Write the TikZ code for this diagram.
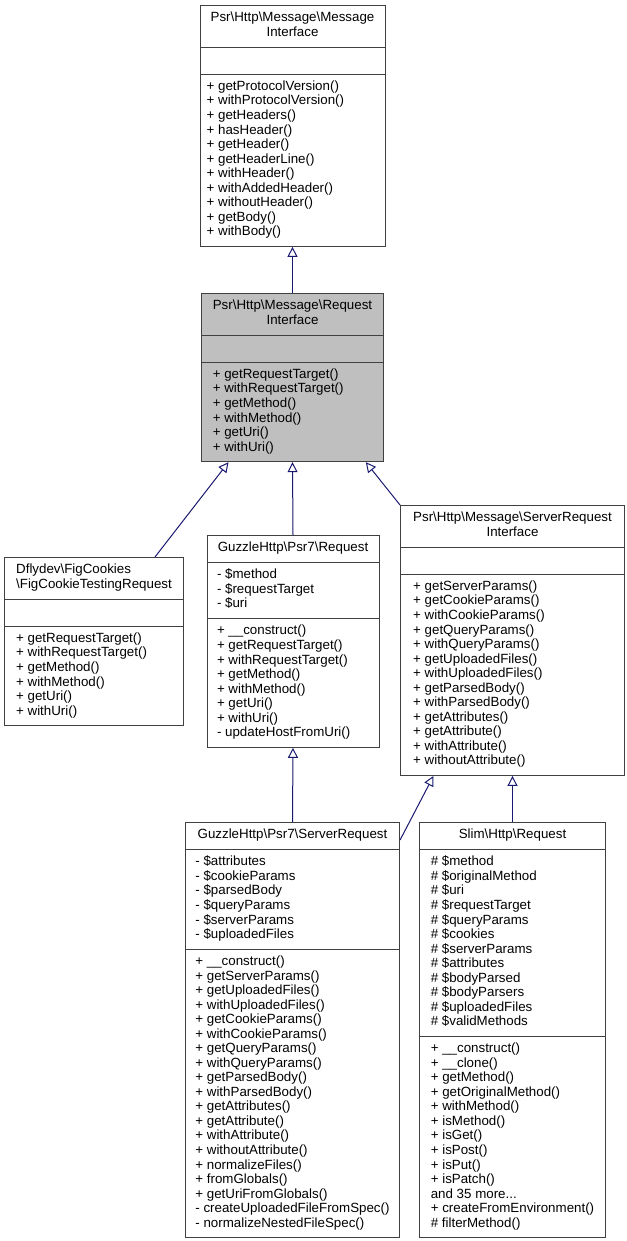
\documentclass[tikz,border=0pt]{standalone}
\usepackage{fontspec}
\setmainfont{Liberation Sans}
\usetikzlibrary{shapes.multipart,arrows.meta,positioning}
\definecolor{edgeblue}{HTML}{191970}
\definecolor{boxline}{HTML}{404040}
\newcommand{\ctr}[1]{\begin{tabular}{@{}c@{}}#1\end{tabular}}
\newcommand{\lft}[1]{\begin{tabular}{@{}l@{}}#1\end{tabular}}
\newcommand{\bksl}{\textbackslash}

\begin{document}
\begin{tikzpicture}[
        x=0.75pt, y=-0.75pt,
        ->,
        >={Triangle[open,length=7.5pt,width=7.5pt]},
        cls/.style={draw=boxline, line width=0.75pt, fill=white, anchor=north,
            rectangle split, rectangle split parts=3,
            rectangle split part align={center,left,left},
            rectangle split empty part height=10.9pt,
            inner xsep=8.7pt, inner ysep=4.3pt,
            font=\fontsize{10}{10.9}\selectfont},
        gen/.style={draw=edgeblue, line width=0.75pt}
        ]
    \useasboundingbox (0,0) rectangle (627,1241);

    % Classes
    \node[cls, inner xsep=5pt, minimum width=138.75pt] (msgif) at (292.5,5)
        {\ctr{Psr\bksl Http\bksl Message\bksl Message\\Interface}
         \nodepart{second}
         \nodepart{third}\lft{+ getProtocolVersion()\\+ withProtocolVersion()\\+ getHeaders()\\+ hasHeader()\\+ getHeader()\\+ getHeaderLine()\\+ withHeader()\\+ withAddedHeader()\\+ withoutHeader()\\+ getBody()\\+ withBody()}};
    \node[cls, fill=gray!50, minimum width=135.75pt] (reqif) at (292.5,293)
        {\ctr{Psr\bksl Http\bksl Message\bksl Request\\Interface}
         \nodepart{second}
         \nodepart{third}\lft{+ getRequestTarget()\\+ withRequestTarget()\\+ getMethod()\\+ withMethod()\\+ getUri()\\+ withUri()}};
    \node[cls, rectangle split part align=left, minimum width=133.5pt] (figreq) at (94,557)
        {\lft{Dflydev\bksl FigCookies\\\bksl FigCookieTestingRequest}
         \nodepart{second}
         \nodepart{third}\lft{+ getRequestTarget()\\+ withRequestTarget()\\+ getMethod()\\+ withMethod()\\+ getUri()\\+ withUri()}};
    \node[cls, inner xsep=7.5pt, minimum width=129pt] (guzreq) at (293,535)
        {\ctr{GuzzleHttp\bksl Psr7\bksl Request}
         \nodepart{second}\lft{- \$method\\- \$requestTarget\\- \$uri}
         \nodepart{third}\lft{+ \_\_construct()\\+ getRequestTarget()\\+ withRequestTarget()\\+ getMethod()\\+ withMethod()\\+ getUri()\\+ withUri()\\- updateHostFromUri()}};
    \node[cls, inner xsep=9.5pt, minimum width=165.75pt] (srvif) at (512.5,505)
        {\ctr{Psr\bksl Http\bksl Message\bksl ServerRequest\\Interface}
         \nodepart{second}
         \nodepart{third}\lft{+ getServerParams()\\+ getCookieParams()\\+ withCookieParams()\\+ getQueryParams()\\+ withQueryParams()\\+ getUploadedFiles()\\+ withUploadedFiles()\\+ getParsedBody()\\+ withParsedBody()\\+ getAttributes()\\+ getAttribute()\\+ withAttribute()\\+ withoutAttribute()}};
    \node[cls, inner xsep=7.5pt, minimum width=158.25pt] (guzsrv) at (292.5,822)
        {\ctr{GuzzleHttp\bksl Psr7\bksl ServerRequest}
         \nodepart{second}\lft{- \$attributes\\- \$cookieParams\\- \$parsedBody\\- \$queryParams\\- \$serverParams\\- \$uploadedFiles}
         \nodepart{third}\lft{+ \_\_construct()\\+ getServerParams()\\+ getUploadedFiles()\\+ withUploadedFiles()\\+ getCookieParams()\\+ withCookieParams()\\+ getQueryParams()\\+ withQueryParams()\\+ getParsedBody()\\+ withParsedBody()\\+ getAttributes()\\+ getAttribute()\\+ withAttribute()\\+ withoutAttribute()\\+ normalizeFiles()\\+ fromGlobals()\\+ getUriFromGlobals()\\- createUploadedFileFromSpec()\\- normalizeNestedFileSpec()}};
    \node[cls, minimum width=135.75pt] (slimreq) at (512.5,822)
        {\ctr{Slim\bksl Http\bksl Request}
         \nodepart{second}\lft{\# \$method\\\# \$originalMethod\\\# \$uri\\\# \$requestTarget\\\# \$queryParams\\\# \$cookies\\\# \$serverParams\\\# \$attributes\\\# \$bodyParsed\\\# \$bodyParsers\\\# \$uploadedFiles\\\# \$validMethods}
         \nodepart{third}\lft{+ \_\_construct()\\+ \_\_clone()\\+ getMethod()\\+ getOriginalMethod()\\+ withMethod()\\+ isMethod()\\+ isGet()\\+ isPost()\\+ isPut()\\+ isPatch()\\and 35 more...\\+ createFromEnvironment()\\\# filterMethod()}};

    % Inheritance
    \draw[gen] (reqif.north) -- (msgif.south);
    \draw[gen] ([xshift=45.75pt]figreq.north) -- ([xshift=-48pt]reqif.south);
    \draw[gen] (guzreq.north) -- (reqif.south);
    \draw[gen] (srvif.north west) -- ([xshift=55pt]reqif.south);
    \draw[gen] (guzsrv.north) -- (guzreq.south);
    \draw[gen] ([yshift=-13.5pt]guzsrv.north east) -- ([xshift=-59.25pt]srvif.south);
    \draw[gen] (slimreq.north) -- (srvif.south);

\end{tikzpicture}
\end{document}
